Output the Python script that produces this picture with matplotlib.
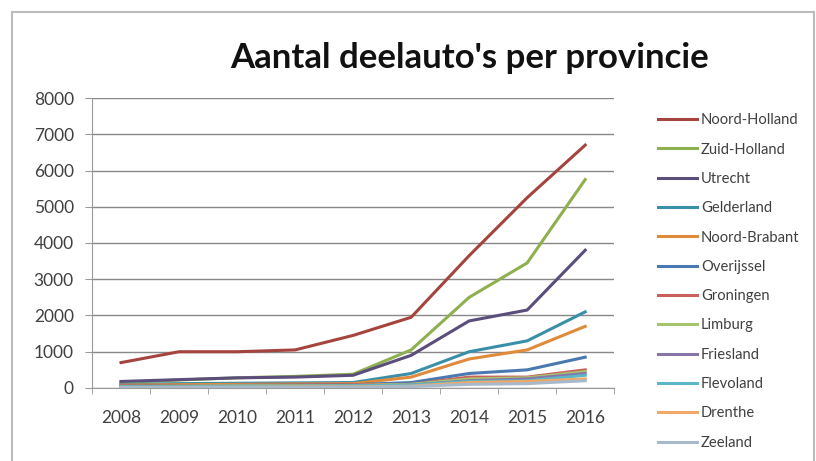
import matplotlib
matplotlib.use("Agg")
import matplotlib.pyplot as plt
from matplotlib.patches import Rectangle

# data
years = [2008, 2009, 2010, 2011, 2012, 2013, 2014, 2015, 2016]
provinces = ["Noord-Holland", "Zuid-Holland", "Utrecht", "Gelderland", "Noord-Brabant",
             "Overijssel", "Groningen", "Limburg", "Friesland", "Flevoland",
             "Drenthe", "Zeeland"]
noord_holland = [700, 1000, 1000, 1050, 1450, 1950, 3650, 5250, 6700]
zuid_holland = [150, 220, 280, 320, 380, 1050, 2500, 3450, 5750]
utrecht = [180, 230, 280, 300, 350, 900, 1850, 2150, 3800]
gelderland = [100, 120, 130, 140, 150, 400, 1000, 1300, 2100]
noord_brabant = [80, 90, 100, 110, 120, 300, 800, 1050, 1700]
overijssel = [50, 60, 70, 80, 90, 150, 400, 500, 850]
groningen = [50, 60, 70, 80, 90, 100, 300, 300, 500]
limburg = [40, 50, 60, 60, 70, 100, 250, 280, 450]
friesland = [20, 30, 40, 40, 50, 80, 200, 250, 400]
flevoland = [30, 40, 50, 50, 60, 80, 180, 200, 350]
drenthe = [10, 20, 20, 30, 30, 50, 150, 180, 250]
zeeland = [10, 10, 20, 20, 20, 40, 100, 120, 200]

series = [noord_holland, zuid_holland, utrecht, gelderland, noord_brabant, overijssel,
          groningen, limburg, friesland, flevoland, drenthe, zeeland]
colors = ["#A5443F", "#8EB04F", "#5B4D7C", "#3A8FA8", "#E08A3C", "#4A78B0",
          "#C9605C", "#A6C46E", "#8774A8", "#5BB6C8", "#F0A868", "#A9B9CC"]

plt.rcParams['font.family'] = ['Lato', 'DejaVu Sans']

fig = plt.figure(figsize=(8.16, 4.61), dpi=100)
ax = fig.add_axes([0.1127, 0.1584, 0.64, 0.629])

x = list(range(len(years)))
for vals, name, c in zip(series, provinces, colors):
    ax.plot(x, vals, color=c, linewidth=2.2, label=name)

ax.set_xlim(-0.5, len(years) - 0.5)
ax.set_ylim(0, 8000)
ax.set_yticks(range(0, 8001, 1000))
ax.set_xticks(x)
ax.set_xticklabels([str(y) for y in years])
ax.set_xticks([i - 0.5 for i in range(len(years) + 1)], minor=True)
ax.tick_params(axis='x', which='major', length=0, pad=16, labelsize=12.5, labelcolor='#404040')
ax.tick_params(axis='x', which='minor', length=4, color='#999999', direction='out')
ax.tick_params(axis='y', length=5, color='#999999', labelsize=12.5, labelcolor='#404040', pad=8)
ax.grid(axis='y', color='#888888', linewidth=1)
ax.set_axisbelow(True)
for s in ['top', 'right']:
    ax.spines[s].set_visible(False)
ax.spines['left'].set_color('#999999')
ax.spines['bottom'].set_color('#999999')

fig.text(0.576, 0.874, "Aantal deelauto's per provincie", ha='center', va='center',
         fontsize=25, fontweight='bold', color='#111111')

leg = ax.legend(loc='upper left', bbox_to_anchor=(0.790, 0.783), bbox_transform=fig.transFigure,
                frameon=False, fontsize=10.6, labelspacing=1.04, handlelength=2.65,
                handletextpad=0.27, labelcolor='#404040')

fig.patches.append(Rectangle((12 / 816, -0.01), 802 / 816, 1 - 12 / 461 + 0.01,
                             transform=fig.transFigure, fill=False,
                             edgecolor='#bbbbbb', linewidth=1.5))

fig.savefig('out.png', dpi=100)
